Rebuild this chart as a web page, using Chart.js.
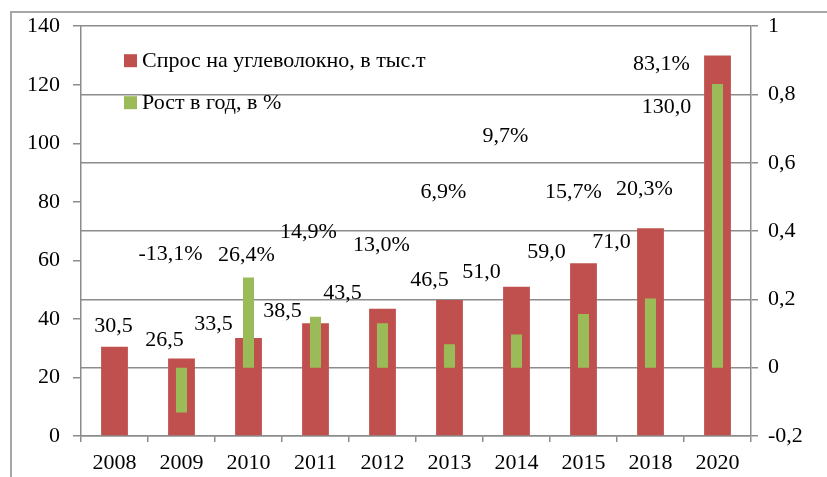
<!DOCTYPE html>
<html lang="ru">
<head>
  <meta charset="UTF-8" />
  <title>Спрос на углеволокно</title>
  <script src="https://cdn.jsdelivr.net/npm/chart.js"></script>
  <style>
    body {
      margin: 0;
      background: #ffffff;
      overflow: hidden;
    }

    .wrap {
      position: relative;
      width: 827px;
      height: 477px;
      overflow: hidden;
    }

    /* рамка вокруг диаграммы (правый и нижний край за кадром) */
    .frame {
      position: absolute;
      left: 10px;
      top: 11px;
      width: 840px;
      height: 490px;
      border-left: 2px solid #a6a6a6;
      border-top: 2px solid #a6a6a6;
    }

    canvas {
      position: absolute;
      left: 0;
      top: 0;
    }
  </style>
</head>
<body>
  <div class="wrap">
    <div class="frame"></div>
    <canvas id="fiberChart" width="827" height="477"></canvas>
  </div>

  <script>
    // данные
    const years = ['2008', '2009', '2010', '2011', '2012', '2013', '2014', '2015', '2018', '2020'];
    const demand = [30.5, 26.5, 33.5, 38.5, 43.5, 46.5, 51.0, 59.0, 71.0, 130.0];
    const growth = [null, -0.131, 0.264, 0.149, 0.130, 0.069, 0.097, 0.157, 0.203, 0.831];

    // подписи сдвинуты вручную, как в исходнике (dx, dy от верха столбца)
    const demandShift = [[-1, -21], [-17, -18], [-35, -14], [-33, -12], [-40, -15], [-20, -20], [-35, -14], [-37, -11], [-39, 14], [-51, 52]];
    const growthShift = [null, [-11, -158], [-2, -22], [-7, -85], [-1, -78], [-6, -152], [-11, -198], [-10, -122], [-6, -109], [-56, -20]];

    const RED = '#c0504d';
    const GREEN = '#9bbb59';
    const AXIS = '#8c8c8c';
    const FONT = { family: "'Liberation Serif', 'Times New Roman', serif", size: 22 };

    function comma(num) {
      return String(num).replace('.', ',');
    }

    const barLabels = {
      id: 'barLabels',
      afterDatasetsDraw(chart) {
        const ctx = chart.ctx;
        ctx.save();
        ctx.font = FONT.size + 'px ' + FONT.family;
        ctx.fillStyle = '#000';
        ctx.textAlign = 'center';
        ctx.textBaseline = 'middle';
        chart.data.datasets.forEach((ds, di) => {
          const meta = chart.getDatasetMeta(di);
          const shifts = di === 0 ? demandShift : growthShift;
          meta.data.forEach((el, i) => {
            const v = ds.data[i];
            if (v === null || !shifts[i]) return;
            const txt = di === 0 ? comma(v.toFixed(1)) : comma((v * 100).toFixed(1)) + '%';
            ctx.fillText(txt, el.x + shifts[i][0], el.y + shifts[i][1]);
          });
        });
        ctx.restore();
      }
    };

    // легенда внутри области построения
    const insideLegend = {
      id: 'insideLegend',
      afterDraw(chart) {
        const ctx = chart.ctx;
        const area = chart.chartArea;
        const x = area.left + 43;
        let y = area.top + 35;
        ctx.save();
        ctx.font = FONT.size + 'px ' + FONT.family;
        ctx.textBaseline = 'middle';
        chart.data.datasets.forEach(ds => {
          ctx.fillStyle = ds.backgroundColor;
          ctx.fillRect(x, y - 7, 13, 13);
          ctx.fillStyle = '#000';
          ctx.fillText(ds.label, x + 18, y);
          y += 42;
        });
        ctx.restore();
      }
    };

    new Chart(document.getElementById('fiberChart'), {
      type: 'bar',
      data: {
        labels: years,
        datasets: [
          {
            label: 'Спрос на углеволокно, в тыс.т',
            data: demand,
            backgroundColor: RED,
            yAxisID: 'y',
            grouped: false,
            order: 2,
            categoryPercentage: 1,
            barPercentage: 0.4
          },
          {
            label: 'Рост в год, в %',
            data: growth,
            backgroundColor: GREEN,
            yAxisID: 'y1',
            grouped: false,
            order: 1,
            categoryPercentage: 1,
            barPercentage: 0.165
          }
        ]
      },
      options: {
        responsive: false,
        animation: false,
        layout: { padding: { top: 26, left: 0, right: 0, bottom: 0 } },
        plugins: {
          legend: { display: false },
          tooltip: { enabled: false }
        },
        scales: {
          x: {
            grid: { drawOnChartArea: false, color: AXIS, lineWidth: 1.5, tickLength: 6 },
            border: { color: AXIS, width: 1.5 },
            ticks: { color: '#000', font: FONT, padding: 8, maxRotation: 0 },
            afterFit: s => { s.height = 41; }
          },
          y: {
            position: 'left',
            min: 0,
            max: 140,
            ticks: { stepSize: 20, color: '#000', font: FONT, padding: 13 },
            grid: { drawOnChartArea: false, color: AXIS, lineWidth: 1.5, tickLength: 8 },
            border: { color: AXIS, width: 1.5 },
            afterFit: s => { s.width = 81; }
          },
          y1: {
            position: 'right',
            min: -0.2,
            max: 1,
            ticks: {
              stepSize: 0.2,
              color: '#000',
              font: FONT,
              padding: 10,
              callback: v => comma(Number(v.toFixed(1)))
            },
            grid: { color: AXIS, lineWidth: 1.5, tickLength: 7 },
            border: { color: AXIS, width: 1.5 },
            afterFit: s => { s.width = 76; }
          }
        }
      },
      plugins: [barLabels, insideLegend]
    });
  </script>
</body>
</html>
